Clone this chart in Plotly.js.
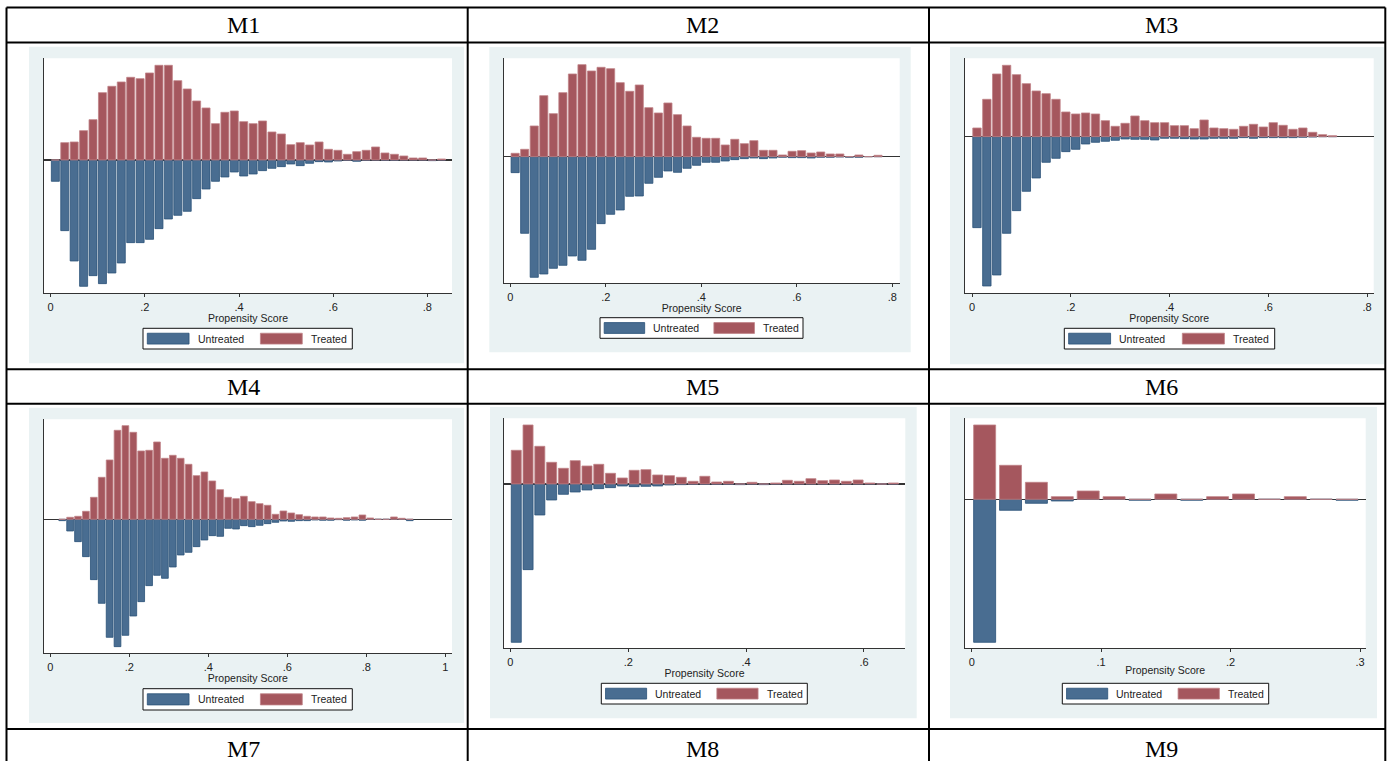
<!DOCTYPE html>
<html>
<head>
<meta charset="utf-8">
<script src="https://cdn.plot.ly/plotly-3.0.1.min.js"></script>
<style>
  html, body { margin: 0; padding: 0; background: #ffffff; }
  #chart { width: 1392px; height: 761px; }
</style>
</head>
<body>
<div id="chart"></div>
<script>
// ---------------- DATA (arbitrary frequency units) ----------------
const cellLabels = ["M1", "M2", "M3", "M4", "M5", "M6", "M7", "M8", "M9"];
const xTitle = "Propensity Score";
const legendNames = ["Untreated", "Treated"];

const m1_bins = [0.01,0.03,0.05,0.07,0.09,0.11,0.13,0.15,0.17,0.19,0.21,0.23,0.25,0.27,0.29,0.31,0.33,0.35,0.37,0.39,0.41,0.43,0.45,0.47,0.49,0.51,0.53,0.55,0.57,0.59,0.61,0.63,0.65,0.67,0.69,0.71,0.73,0.75,0.77,0.79,0.81,0.83];
const m1_treated = [0,52,54,88,121,202,221,234,248,244,261,284,284,238,213,177,156,109,143,147,115,109,117,84,78,46,52,45,54,32,29,17,25,29,39,21,17,12,6,6,0,3];
const m1_untreated = [64,212,303,379,347,371,339,309,248,248,238,206,177,166,154,116,87,64,51,36,48,42,32,25,20,12,17,10,5,6,3,1,4,1,0,1,1,0,0,0,2,0];

const m2_bins = [0.01,0.03,0.05,0.07,0.09,0.11,0.13,0.15,0.17,0.19,0.21,0.23,0.25,0.27,0.29,0.31,0.33,0.35,0.37,0.39,0.41,0.43,0.45,0.47,0.49,0.51,0.53,0.55,0.57,0.59,0.61,0.63,0.65,0.67,0.69,0.71,0.73,0.75,0.77];
const m2_treated = [10,22,92,183,129,192,248,276,257,268,264,222,196,215,147,131,161,126,92,58,55,55,35,52,39,48,19,19,5,16,18,11,14,8,8,0,5,0,4];
const m2_untreated = [48,230,362,352,335,326,298,311,278,201,173,160,119,118,80,62,43,47,35,26,17,17,13,9,6,4,6,4,2,3,3,4,2,2,1,2,2,0,0];

const m3_bins = [0.01,0.03,0.05,0.07,0.09,0.11,0.13,0.15,0.17,0.19,0.21,0.23,0.25,0.27,0.29,0.31,0.33,0.35,0.37,0.39,0.41,0.43,0.45,0.47,0.49,0.51,0.53,0.55,0.57,0.59,0.61,0.63,0.65,0.67,0.69,0.71,0.73];
const m3_treated = [26,112,188,214,186,159,137,129,112,74,68,71,68,48,31,40,62,48,42,42,33,33,24,50,26,24,22,31,37,29,42,34,22,26,13,6,3];
const m3_untreated = [273,448,415,290,222,164,124,77,65,45,38,22,17,14,11,7,8,8,10,5,5,6,7,7,5,5,5,3,5,3,3,3,3,2,1,0,0];

const m4_bins = [0.03,0.05,0.07,0.09,0.11,0.13,0.15,0.17,0.19,0.21,0.23,0.25,0.27,0.29,0.31,0.33,0.35,0.37,0.39,0.41,0.43,0.45,0.47,0.49,0.51,0.53,0.55,0.57,0.59,0.61,0.63,0.65,0.67,0.69,0.71,0.73,0.75,0.77,0.79,0.81,0.83,0.85,0.87,0.89,0.91];
const m4_treated = [0,6,9,24,66,126,178,267,281,261,205,207,232,183,192,183,165,131,142,115,89,66,62,69,53,47,42,15,25,19,14,9,7,7,4,3,5,7,13,4,0,0,7,3,0];
const m4_untreated = [4,35,67,112,181,252,354,382,348,290,247,199,168,177,143,107,99,82,62,49,51,27,29,19,22,18,13,9,5,6,4,4,2,3,3,1,3,2,3,0,0,0,0,0,4];

const m5_bins = [0.01,0.03,0.05,0.07,0.09,0.11,0.13,0.15,0.17,0.19,0.21,0.23,0.25,0.27,0.29,0.31,0.33,0.35,0.37,0.39,0.41,0.43,0.45,0.47,0.49,0.51,0.53,0.55,0.57,0.59,0.61,0.63,0.65];
const m5_treated = [101,177,113,65,47,70,54,59,32,18,41,43,27,25,20,8,23,6,8,0,5,0,3,11,8,16,10,12,8,12,3,0,3];
const m5_untreated = [475,257,93,48,31,24,18,14,11,6,8,7,6,3,2,1,1,1,1,2,0,2,0,0,0,0,0,0,0,0,0,0,0];

const m6_bins = [0.01,0.03,0.05,0.07,0.09,0.11,0.13,0.15,0.17,0.19,0.21,0.23,0.25,0.27,0.29];
const m6_treated = [223,102,51,8,25,8,0,16,0,8,16,0,8,0,0];
const m6_untreated = [429,33,12,5,0,0,3,0,3,0,0,0,0,0,3];

const ticks_08 = [0, 0.2, 0.4, 0.6, 0.8];
const ticks_08_text = ["0", ".2", ".4", ".6", ".8"];
const ticks_10 = [0, 0.2, 0.4, 0.6, 0.8, 1];
const ticks_10_text = ["0", ".2", ".4", ".6", ".8", "1"];
const ticks_06 = [0, 0.2, 0.4, 0.6];
const ticks_06_text = ["0", ".2", ".4", ".6"];
const ticks_03 = [0, 0.1, 0.2, 0.3];
const ticks_03_text = ["0", ".1", ".2", ".3"];

// ---------------- STYLE / LAYOUT ----------------
const W = 1392, H = 761;
const PX = x => x / W;
const PY = y => 1 - y / H;

const COL_UNT = "#496d91", COL_UNT_LINE = "#2a5077";
const COL_TRT = "#a5575e", COL_TRT_LINE = "#c08388";
const BG = "#eaf2f3";
const AXC = "#333333";
const SANS = "Liberation Sans, Arial, sans-serif";
const SERIF = "Liberation Serif, Times New Roman, serif";

const panels = [
  { bins: m1_bins, trt: m1_treated, unt: m1_untreated, tv: ticks_08, tt: ticks_08_text,
    plot: [44, 452, 58.3, 293.3], bg: [29, 464, 46.7, 363.3], xr: [-0.0141, 0.8523], yr: [-400, 305], leg: [143, 352.3, 328.3, 349] },
  { bins: m2_bins, trt: m2_treated, unt: m2_untreated, tv: ticks_08, tt: ticks_08_text,
    plot: [503.7, 899.7, 58.3, 283.3], bg: [489.3, 910.7, 47, 352.3], xr: [-0.01396, 0.8154], yr: [-380, 295], leg: [600, 803, 317.7, 338.3] },
  { bins: m3_bins, trt: m3_treated, unt: m3_untreated, tv: ticks_08, tt: ticks_08_text,
    plot: [964.7, 1373.7, 58.3, 293.3], bg: [950, 1384, 47, 364.3], xr: [-0.01485, 0.8135], yr: [-470, 235], leg: [1064.3, 1274.7, 328.3, 349] },
  { bins: m4_bins, trt: m4_treated, unt: m4_untreated, tv: ticks_10, tt: ticks_10_text,
    plot: [43.7, 452, 419.3, 653.3], bg: [29, 464, 407.7, 723], xr: [-0.01688, 1.0169], yr: [-402, 300], leg: [143, 352.3, 688.7, 710] },
  { bins: m5_bins, trt: m5_treated, unt: m5_untreated, tv: ticks_06, tt: ticks_06_text,
    plot: [503.7, 905.3, 418.3, 648.3], bg: [490, 916.7, 407, 718.3], xr: [-0.01131, 0.6701], yr: [-493, 197], leg: [601.3, 807.3, 683.3, 704] },
  { bins: m6_bins, trt: m6_treated, unt: m6_untreated, tv: ticks_03, tt: ticks_03_text,
    plot: [964.7, 1365.7, 418.3, 648.3], bg: [950, 1377, 407, 718.3], xr: [-0.0054, 0.3044], yr: [-447, 243], leg: [1062.3, 1268.7, 683.3, 704] }
];

const data = [];
const shapes = [];
const annotations = [];
const layout = {
  width: W, height: H,
  margin: { l: 0, r: 0, t: 0, b: 0, pad: 0 },
  paper_bgcolor: "#ffffff",
  plot_bgcolor: "rgba(0,0,0,0)",
  barmode: "overlay",
  showlegend: false,
  font: { family: SANS, color: "#222222" }
};

panels.forEach((p, i) => {
  const s = i === 0 ? "" : String(i + 1);
  const xa = "x" + s, ya = "y" + s;
  shapes.push({ type: "rect", xref: "paper", yref: "paper", layer: "below",
    x0: PX(p.bg[0]), x1: PX(p.bg[1]), y0: PY(p.bg[3]), y1: PY(p.bg[2]),
    fillcolor: BG, line: { width: 0 } });
  shapes.push({ type: "rect", xref: "paper", yref: "paper", layer: "below",
    x0: PX(p.plot[0]), x1: PX(p.plot[1]), y0: PY(p.plot[3]), y1: PY(p.plot[2]),
    fillcolor: "#ffffff", line: { width: 0 } });

  data.push({ type: "bar", name: legendNames[0], x: p.bins, y: p.unt.map(v => -v),
    xaxis: xa, yaxis: ya, width: 0.017,
    marker: { color: COL_UNT, line: { color: COL_UNT_LINE, width: 0.8 } }, hoverinfo: "skip" });
  data.push({ type: "bar", name: legendNames[1], x: p.bins, y: p.trt,
    xaxis: xa, yaxis: ya, width: 0.017,
    marker: { color: COL_TRT, line: { color: COL_TRT_LINE, width: 0.8 } }, hoverinfo: "skip" });

  layout["xaxis" + s] = {
    domain: [PX(p.plot[0]), PX(p.plot[1])], anchor: ya, range: p.xr,
    tickmode: "array", tickvals: p.tv, ticktext: p.tt,
    ticks: "outside", ticklen: 3, tickwidth: 1, tickcolor: AXC,
    showline: true, linecolor: AXC, linewidth: 1, showgrid: false, zeroline: false,
    tickfont: { family: SANS, size: 11, color: "#222222" },
    title: { text: xTitle, font: { family: SANS, size: 10.5, color: "#222222" }, standoff: 0 },
    fixedrange: true
  };
  layout["yaxis" + s] = {
    domain: [PY(p.plot[3]), PY(p.plot[2])], anchor: xa, range: p.yr,
    showticklabels: false, ticks: "", showgrid: false,
    showline: true, linecolor: AXC, linewidth: 1,
    zeroline: true, zerolinecolor: AXC, zerolinewidth: 1.2, fixedrange: true
  };

  const L = p.leg, lw = L[1] - L[0], lh = L[3] - L[2];
  shapes.push({ type: "rect", xref: "paper", yref: "paper",
    x0: PX(L[0]), x1: PX(L[1]), y0: PY(L[3]), y1: PY(L[2]),
    fillcolor: "#ffffff", line: { color: "#111111", width: 1 } });
  const sw = [[0.0206, 0.22, COL_UNT, COL_UNT_LINE, 0.252, legendNames[0]],
              [0.561, 0.761, COL_TRT, COL_TRT_LINE, 0.793, legendNames[1]]];
  sw.forEach(q => {
    shapes.push({ type: "rect", xref: "paper", yref: "paper",
      x0: PX(L[0] + q[0] * lw), x1: PX(L[0] + q[1] * lw),
      y0: PY(L[2] + 0.762 * lh), y1: PY(L[2] + 0.238 * lh),
      fillcolor: q[2], line: { color: q[3], width: 0.8 } });
    annotations.push({ xref: "paper", yref: "paper", x: PX(L[0] + q[4] * lw), y: PY(L[2] + lh / 2),
      xanchor: "left", yanchor: "middle", showarrow: false, text: q[5],
      font: { family: SANS, size: 10.5, color: "#222222" } });
  });
});

// table grid
const tblX = [6.5, 467.7, 929, 1385.3];
const tblY = [7.5, 42.5, 369.2, 403.7, 729];
tblX.forEach(x => shapes.push({ type: "line", xref: "paper", yref: "paper",
  x0: PX(x), x1: PX(x), y0: PY(tblY[0]), y1: PY(770), line: { color: "#000000", width: 2 } }));
tblY.forEach(y => shapes.push({ type: "line", xref: "paper", yref: "paper",
  x0: PX(tblX[0]), x1: PX(tblX[3]), y0: PY(y), y1: PY(y), line: { color: "#000000", width: 2 } }));

// cell header labels
const labelX = [243, 702, 1161];
const labelY = [25.5, 387, 749];
cellLabels.forEach((t, k) => {
  annotations.push({ xref: "paper", yref: "paper", x: PX(labelX[k % 3]), y: PY(labelY[Math.floor(k / 3)]),
    xanchor: "center", yanchor: "middle", showarrow: false, text: t,
    font: { family: SERIF, size: 24, color: "#000000" } });
});

layout.shapes = shapes;
layout.annotations = annotations;

Plotly.newPlot("chart", data, layout, { staticPlot: true, displayModeBar: false });
</script>
</body>
</html>
